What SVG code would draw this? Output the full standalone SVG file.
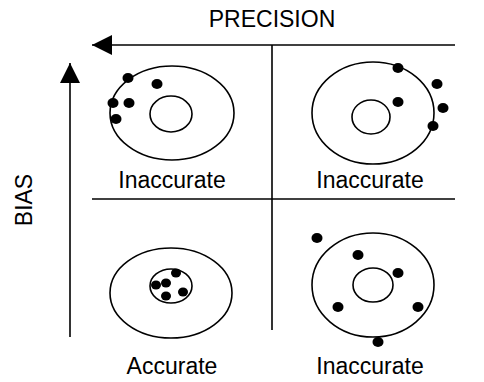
<svg xmlns="http://www.w3.org/2000/svg" width="484" height="382" viewBox="0 0 484 382">
<style>
.t{font-family:"Liberation Sans",Arial,sans-serif;font-size:23px;fill:#000;text-anchor:middle}
.ring{fill:none;stroke:#000;stroke-width:1.6}
.ln{stroke:#000;stroke-width:1.6;fill:none}
.d{fill:#000}
</style>
<defs>
<marker id="ah" viewBox="0 0 20 20" refX="20" refY="10" markerWidth="20" markerHeight="20" markerUnits="userSpaceOnUse" orient="auto">
<path d="M0,0 L20,10 L0,20 Z" fill="#000"/>
</marker>
</defs>
<rect width="484" height="382" fill="#fff"/>
<g id="connectors">
<line class="ln" x1="455" y1="45" x2="92" y2="45" marker-end="url(#ah)"/>
<line class="ln" x1="70" y1="337" x2="70" y2="63" marker-end="url(#ah)"/>
<line class="ln" x1="272" y1="45" x2="272" y2="330"/>
<line class="ln" x1="92" y1="199" x2="455" y2="199"/>
</g>
<g id="axis-labels">
<text class="t" x="272" y="27">PRECISION</text>
<text class="t" transform="translate(32,200) rotate(-90)">BIAS</text>
</g>
<g id="target-tl">
<ellipse class="ring" cx="172" cy="113" rx="62" ry="47"/>
<ellipse class="ring" cx="171" cy="114" rx="21" ry="18"/>
<ellipse class="d" cx="128" cy="78" rx="5.5" ry="5"/>
<ellipse class="d" cx="157" cy="84" rx="5.5" ry="5"/>
<ellipse class="d" cx="113" cy="103" rx="5.5" ry="5"/>
<ellipse class="d" cx="129" cy="103" rx="5.5" ry="5"/>
<ellipse class="d" cx="116" cy="119" rx="5.5" ry="5"/>
<text class="t" x="172" y="188">Inaccurate</text>
</g>
<g id="target-tr">
<ellipse class="ring" cx="373" cy="113" rx="61" ry="51"/>
<ellipse class="ring" cx="371" cy="117" rx="19" ry="17"/>
<ellipse class="d" cx="398" cy="68" rx="5.5" ry="5"/>
<ellipse class="d" cx="437" cy="84" rx="5.5" ry="5"/>
<ellipse class="d" cx="398" cy="102" rx="5.5" ry="5"/>
<ellipse class="d" cx="443" cy="108" rx="5.5" ry="5"/>
<ellipse class="d" cx="433" cy="126" rx="5.5" ry="5"/>
<text class="t" x="370" y="188">Inaccurate</text>
</g>
<g id="target-bl">
<ellipse class="ring" cx="171" cy="293" rx="61" ry="45"/>
<ellipse class="ring" cx="171" cy="286" rx="21" ry="17"/>
<ellipse class="d" cx="176" cy="273" rx="5" ry="4.5"/>
<ellipse class="d" cx="156" cy="285" rx="5" ry="4.5"/>
<ellipse class="d" cx="166" cy="283" rx="5" ry="4.5"/>
<ellipse class="d" cx="166" cy="296" rx="5" ry="4.5"/>
<ellipse class="d" cx="183" cy="292" rx="5" ry="4.5"/>
<text class="t" x="172" y="374">Accurate</text>
</g>
<g id="target-br">
<ellipse class="ring" cx="373" cy="285" rx="61" ry="52"/>
<ellipse class="ring" cx="373" cy="285" rx="20" ry="17"/>
<ellipse class="d" cx="317" cy="238" rx="5.5" ry="5"/>
<ellipse class="d" cx="358" cy="255" rx="5.5" ry="5"/>
<ellipse class="d" cx="398" cy="273" rx="5.5" ry="5"/>
<ellipse class="d" cx="338" cy="307" rx="5.5" ry="5"/>
<ellipse class="d" cx="418" cy="307" rx="5.5" ry="5"/>
<ellipse class="d" cx="378" cy="342" rx="5.5" ry="5"/>
<text class="t" x="370" y="374">Inaccurate</text>
</g>
</svg>
